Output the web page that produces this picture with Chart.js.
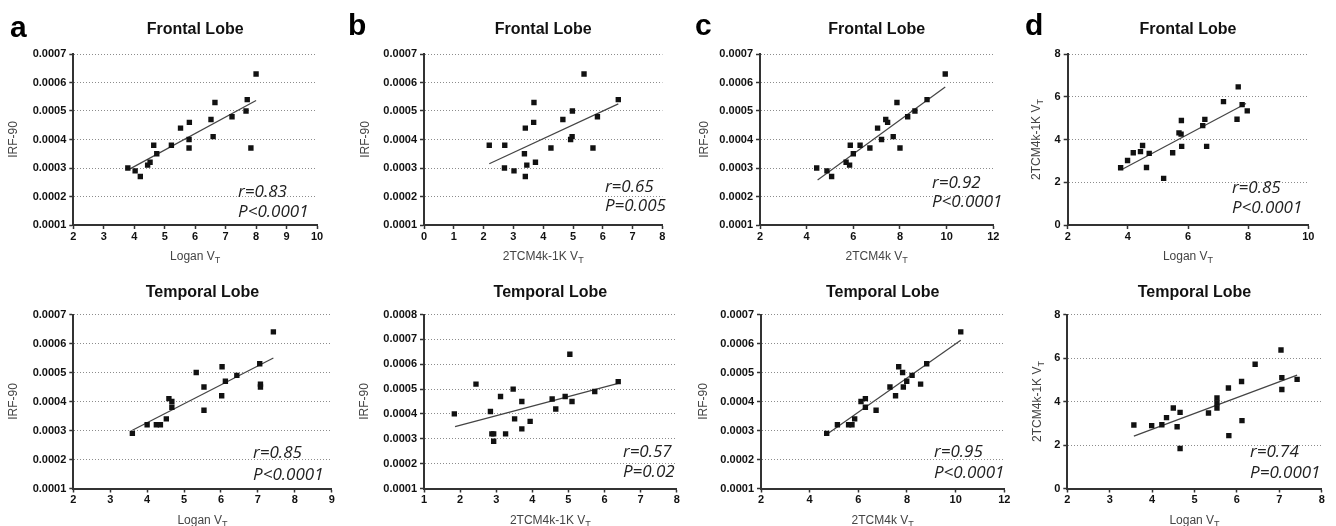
<!DOCTYPE html>
<html>
<head>
<meta charset="utf-8">
<script src="https://cdn.jsdelivr.net/npm/chart.js@4.4.1/dist/chart.umd.min.js"></script>
<style>
  html, body { margin: 0; padding: 0; background: #fff; }
  #wrap { position: relative; width: 1336px; height: 526px; overflow: hidden; }
  #wrap canvas { position: absolute; }
</style>
</head>
<body>
<div id="wrap"></div>
<script>
// ----- tick values -----
const irfTicks7 = [0.0001, 0.0002, 0.0003, 0.0004, 0.0005, 0.0006, 0.0007];
const irfTicks8 = [0.0001, 0.0002, 0.0003, 0.0004, 0.0005, 0.0006, 0.0007, 0.0008];
const tcmTicks = [0, 2, 4, 6, 8];
const loganTicks10 = [2, 3, 4, 5, 6, 7, 8, 9, 10];
const loganTicks9 = [2, 3, 4, 5, 6, 7, 8, 9];
const loganTicks8 = [2, 3, 4, 5, 6, 7, 8];
const loganTicksEven = [2, 4, 6, 8, 10];
const tcm1kTicks08 = [0, 1, 2, 3, 4, 5, 6, 7, 8];
const tcm1kTicks18 = [1, 2, 3, 4, 5, 6, 7, 8];
const tcm4kTicks = [2, 4, 6, 8, 10, 12];

// ----- frontal lobe -----
const frLoganA = [3.79, 4.03, 4.20, 4.44, 4.52, 4.64, 4.74, 5.22, 5.52, 5.81, 5.80, 5.80, 6.52, 6.65, 6.59, 7.21, 7.67, 7.71, 7.83, 8.00];
const frIrfA   = [0.00030, 0.00029, 0.00027, 0.00031, 0.00032, 0.00038, 0.00035, 0.00038, 0.00044, 0.00046, 0.00040, 0.00037, 0.00047, 0.00053, 0.00041, 0.00048, 0.00050, 0.00054, 0.00037, 0.00063];
const frFitA   = [[3.86, 0.000297], [8.0, 0.000537]];

const frTcm1kB = [2.19, 2.71, 2.70, 3.02, 3.40, 3.45, 3.40, 3.37, 3.69, 3.68, 3.74, 4.26, 4.66, 4.98, 4.97, 4.92, 5.37, 5.82, 5.67, 6.52];
const frIrfB   = [0.00038, 0.00038, 0.00030, 0.00029, 0.00027, 0.00031, 0.00044, 0.00035, 0.00053, 0.00046, 0.00032, 0.00037, 0.00047, 0.00050, 0.00041, 0.00040, 0.00063, 0.00048, 0.00037, 0.00054];
const frFitB   = [[2.19, 0.000315], [6.52, 0.000525]];

const frTcm4kC = [4.43, 4.87, 5.07, 5.69, 5.84, 5.87, 6.00, 6.29, 6.71, 7.04, 7.21, 7.39, 7.47, 7.71, 7.87, 8.00, 8.33, 8.64, 9.16, 9.94];
const frIrfC   = [0.00030, 0.00029, 0.00027, 0.00032, 0.00031, 0.00038, 0.00035, 0.00038, 0.00037, 0.00044, 0.00040, 0.00047, 0.00046, 0.00041, 0.00053, 0.00037, 0.00048, 0.00050, 0.00054, 0.00063];
const frFitC   = [[4.47, 0.000258], [9.94, 0.000584]];

const frLoganD = [3.76, 3.99, 4.18, 4.42, 4.49, 4.62, 4.71, 5.19, 5.49, 5.70, 5.77, 5.78, 5.79, 6.49, 6.56, 6.62, 7.18, 7.63, 7.67, 7.80, 7.97];
const frTcm1kD = [2.68, 3.02, 3.38, 3.43, 3.72, 2.69, 3.35, 2.18, 3.38, 4.31, 4.25, 4.89, 3.68, 4.65, 4.94, 3.68, 5.77, 4.95, 6.46, 5.63, 5.34];
const frFitD   = [[3.8, 2.6], [7.93, 5.68]];

// ----- temporal lobe -----
const tmLoganA = [3.60, 4.00, 4.25, 4.36, 4.52, 4.59, 4.67, 4.67, 5.33, 5.54, 5.54, 6.03, 6.12, 6.02, 6.43, 7.05, 7.07, 7.07, 7.42];
const tmIrfA   = [0.00029, 0.00032, 0.00032, 0.00032, 0.00034, 0.00041, 0.00040, 0.00038, 0.00050, 0.00045, 0.00037, 0.00052, 0.00047, 0.00042, 0.00049, 0.00053, 0.00046, 0.00045, 0.00064];
const tmFitA   = [[3.6, 0.000301], [7.42, 0.00055]];

const tmTcm1kB = [1.84, 2.44, 2.84, 2.88, 2.93, 2.93, 3.12, 3.26, 3.47, 3.51, 3.71, 3.71, 3.94, 4.55, 4.65, 4.91, 5.04, 5.10, 5.73, 6.38];
const tmIrfB   = [0.00040, 0.00052, 0.00041, 0.00032, 0.00032, 0.00029, 0.00047, 0.00032, 0.00050, 0.00038, 0.00045, 0.00034, 0.00037, 0.00046, 0.00042, 0.00047, 0.00064, 0.00045, 0.00049, 0.00053];
const tmFitB   = [[1.86, 0.000349], [6.38, 0.000523]];

const tmTcm4kC = [4.70, 5.14, 5.60, 5.74, 5.85, 6.11, 6.29, 6.29, 6.73, 7.30, 7.53, 7.66, 7.82, 7.85, 7.99, 8.21, 8.56, 8.81, 10.21];
const tmIrfC   = [0.00029, 0.00032, 0.00032, 0.00032, 0.00034, 0.00040, 0.00041, 0.00038, 0.00037, 0.00045, 0.00042, 0.00052, 0.00050, 0.00045, 0.00047, 0.00049, 0.00046, 0.00053, 0.00064];
const tmFitC   = [[4.74, 0.000289], [10.21, 0.000611]];

const tmLoganD = [3.57, 3.99, 4.23, 4.34, 4.50, 4.59, 4.66, 4.66, 5.33, 5.53, 5.53, 5.53, 5.80, 5.81, 6.12, 6.11, 6.43, 7.04, 7.06, 7.06, 7.42];
const tmTcm1kD = [2.92, 2.89, 2.93, 3.26, 3.70, 2.84, 3.50, 1.84, 3.47, 4.16, 3.93, 3.70, 4.62, 2.43, 3.12, 4.92, 5.71, 6.37, 5.10, 4.55, 5.02];
const tmFitD   = [[3.57, 2.41], [7.42, 5.21]];

// ----- layout (page px) -----
const XH = 20;
const irfLabel = ['IRF-90', ''];
const tcm1kLabel = ['2TCM4k-1K V', 'T'];

const panels = [
  { letter: 'a', letterAt: [10, 37], box: [0, 0, 345, 263], plot: [73.3, 54, 317, 225], title: 'Frontal Lobe', titleY: 34,
    xT: ['Logan V', 'T'], yT: irfLabel, yTx: 13, xr: [2, 10], yr: [0.0001, 0.0007], xTicks: loganTicks10, yTicks: irfTicks7, dec: 4,
    xs: frLoganA, ys: frIrfA, fit: frFitA, stats: ['r=0.83', 'P<0.0001'], statAt: [7.41, 0.000198], gap: 20 },
  { letter: 'b', letterAt: [348, 35], box: [335, 0, 350, 263], plot: [424, 54, 662.4, 225], title: 'Frontal Lobe', titleY: 34,
    xT: tcm1kLabel, yT: irfLabel, yTx: 365, xr: [0, 8], yr: [0.0001, 0.0007], xTicks: tcm1kTicks08, yTicks: irfTicks7, dec: 4,
    xs: frTcm1kB, ys: frIrfB, fit: frFitB, stats: ['r=0.65', 'P=0.005'], statAt: [6.07, 0.000216], gap: 19 },
  { letter: 'c', letterAt: [695, 35], box: [675, 0, 345, 263], plot: [760, 54, 993.3, 225], title: 'Frontal Lobe', titleY: 34,
    xT: ['2TCM4k V', 'T'], yT: irfLabel, yTx: 704, xr: [2, 12], yr: [0.0001, 0.0007], xTicks: tcm4kTicks, yTicks: irfTicks7, dec: 4,
    xs: frTcm4kC, ys: frIrfC, fit: frFitC, stats: ['r=0.92', 'P<0.0001'], statAt: [9.37, 0.00023], gap: 19 },
  { letter: 'd', letterAt: [1025, 35], box: [1005, 0, 331, 263], plot: [1067.7, 54, 1308.3, 225], title: 'Frontal Lobe', titleY: 34,
    xT: ['Logan V', 'T'], yT: tcm1kLabel, yTx: 1036, xr: [2, 10], yr: [0, 8], xTicks: loganTicksEven, yTicks: tcmTicks, dec: 0,
    xs: frLoganD, ys: frTcm1kD, fit: frFitD, stats: ['r=0.85', 'P<0.0001'], statAt: [7.46, 1.5], gap: 20 },

  { letter: '', box: [0, 263, 345, 263], plot: [73.3, 314.5, 331.7, 488.5], title: 'Temporal Lobe', titleY: 297,
    xT: ['Logan V', 'T'], yT: irfLabel, yTx: 13, xr: [2, 9], yr: [0.0001, 0.0007], xTicks: loganTicks9, yTicks: irfTicks7, dec: 4,
    xs: tmLoganA, ys: tmIrfA, fit: tmFitA, stats: ['r=0.85', 'P<0.0001'], statAt: [6.87, 0.000205], gap: 22 },
  { letter: '', box: [335, 263, 350, 263], plot: [424, 314.5, 676.7, 488.5], title: 'Temporal Lobe', titleY: 297,
    xT: tcm1kLabel, yT: irfLabel, yTx: 364, xr: [1, 8], yr: [0.0001, 0.0008], xTicks: tcm1kTicks18, yTicks: irfTicks8, dec: 4,
    xs: tmTcm1kB, ys: tmIrfB, fit: tmFitB, stats: ['r=0.57', 'P=0.02'], statAt: [6.51, 0.000227], gap: 20 },
  { letter: '', box: [675, 263, 345, 263], plot: [761, 314.5, 1004.3, 488.5], title: 'Temporal Lobe', titleY: 297,
    xT: ['2TCM4k V', 'T'], yT: irfLabel, yTx: 703, xr: [2, 12], yr: [0.0001, 0.0007], xTicks: tcm4kTicks, yTicks: irfTicks7, dec: 4,
    xs: tmTcm4kC, ys: tmIrfC, fit: tmFitC, stats: ['r=0.95', 'P<0.0001'], statAt: [9.11, 0.000209], gap: 21 },
  { letter: '', box: [1005, 263, 331, 263], plot: [1067.3, 314.5, 1321.7, 488.5], title: 'Temporal Lobe', titleY: 297,
    xT: ['Logan V', 'T'], yT: tcm1kLabel, yTx: 1037, xr: [2, 8], yr: [0, 8], xTicks: loganTicks8, yTicks: tcmTicks, dec: 0,
    xs: tmLoganD, ys: tmTcm1kD, fit: tmFitD, stats: ['r=0.74', 'P=0.0001'], statAt: [6.31, 1.45], gap: 21 }
];

const SANS = '"Liberation Sans", Arial, Helvetica, sans-serif';

// text with a subscript, centred on x
function subText(g, main, sub, x, y, size) {
  g.font = size + 'px ' + SANS;
  const w1 = g.measureText(main).width;
  g.font = Math.round(size * 0.72) + 'px ' + SANS;
  const w2 = sub ? g.measureText(sub).width : 0;
  const sx = x - (w1 + w2) / 2;
  g.textAlign = 'left';
  g.font = size + 'px ' + SANS;
  g.fillText(main, sx, y);
  if (sub) { g.font = Math.round(size * 0.72) + 'px ' + SANS; g.fillText(sub, sx + w1, y + 3); }
}

function textPlugin(p) {
  return {
    id: 'panelText',
    afterDraw(chart) {
      const g = chart.ctx, ca = chart.chartArea;
      const ox = p.box[0], oy = p.box[1];
      const cx = (ca.left + ca.right) / 2;
      g.save();
      g.textBaseline = 'alphabetic';
      // panel letter
      if (p.letter) {
        g.fillStyle = '#000';
        g.font = 'bold 30px ' + SANS;
        g.textAlign = 'left';
        g.fillText(p.letter, p.letterAt[0] - ox, p.letterAt[1] - oy);
      }
      // title
      g.fillStyle = '#111';
      g.font = 'bold 16px ' + SANS;
      g.textAlign = 'center';
      g.fillText(p.title, cx, p.titleY - oy);
      // axis titles
      g.fillStyle = '#444';
      subText(g, p.xT[0], p.xT[1], cx, ca.bottom + 35, 12);
      g.translate(p.yTx - ox, (ca.top + ca.bottom) / 2);
      g.rotate(-Math.PI / 2);
      subText(g, p.yT[0], p.yT[1], 0, 4, 12);
      g.restore();
      // r / P
      g.save();
      const sx = chart.scales.x.getPixelForValue(p.statAt[0]);
      const sy = chart.scales.y.getPixelForValue(p.statAt[1]);
      g.fillStyle = '#222';
      g.font = 'italic 17px "Open Sans", "Noto Sans", sans-serif';
      g.textAlign = 'left';
      g.textBaseline = 'alphabetic';
      g.fillText(p.stats[0], sx, sy);
      g.fillText(p.stats[1], sx, sy + p.gap);
      g.restore();
    }
  };
}

const wrap = document.getElementById('wrap');
panels.forEach((p) => {
  const [L, T, W, H] = p.box;
  const cv = document.createElement('canvas');
  cv.width = W; cv.height = H;
  cv.style.left = L + 'px'; cv.style.top = T + 'px';
  cv.style.width = W + 'px'; cv.style.height = H + 'px';
  wrap.appendChild(cv);

  const YW = p.plot[0] - L;
  const pad = { left: 0, top: p.plot[1] - T, right: L + W - p.plot[2], bottom: T + H - p.plot[3] - XH };
  const tickFont = { family: SANS, size: 11, weight: 'bold' };

  new Chart(cv.getContext('2d'), {
    type: 'scatter',
    data: {
      datasets: [
        { data: p.xs.map((x, i) => ({ x, y: p.ys[i] })), pointStyle: 'rect', pointRadius: 3.8, pointHoverRadius: 3.8,
          backgroundColor: '#111', borderColor: '#111', borderWidth: 0 },
        { data: p.fit.map(d => ({ x: d[0], y: d[1] })), showLine: true, pointRadius: 0, pointHoverRadius: 0,
          borderColor: '#444', borderWidth: 1.2, fill: false }
      ]
    },
    options: {
      responsive: false, animation: false, devicePixelRatio: 1,
      layout: { padding: pad },
      plugins: { legend: { display: false }, tooltip: { enabled: false }, title: { display: false } },
      scales: {
        x: {
          type: 'linear', min: p.xr[0], max: p.xr[1],
          afterBuildTicks: (s) => { s.ticks = p.xTicks.map(v => ({ value: v })); },
          afterFit: (s) => { s.height = XH; },
          ticks: { font: tickFont, color: '#111', padding: 1, autoSkip: false, maxRotation: 0, callback: (v) => String(v) },
          grid: { drawOnChartArea: false, drawTicks: true, tickLength: 4, tickColor: '#333', tickWidth: 1.5 },
          border: { display: true, color: '#333', width: 2 }
        },
        y: {
          type: 'linear', min: p.yr[0], max: p.yr[1],
          afterBuildTicks: (s) => { s.ticks = p.yTicks.map(v => ({ value: v })); },
          afterFit: (s) => { s.width = YW; },
          ticks: { font: tickFont, color: '#111', padding: 3, autoSkip: false, callback: (v) => v.toFixed(p.dec) },
          grid: { color: '#8c8c8c', lineWidth: 1, drawTicks: true, tickLength: 4, tickColor: '#333', tickWidth: 1.5 },
          border: { display: true, color: '#333', width: 2, dash: [1, 2] }
        }
      }
    },
    plugins: [textPlugin(p)]
  });
});
</script>
</body>
</html>
